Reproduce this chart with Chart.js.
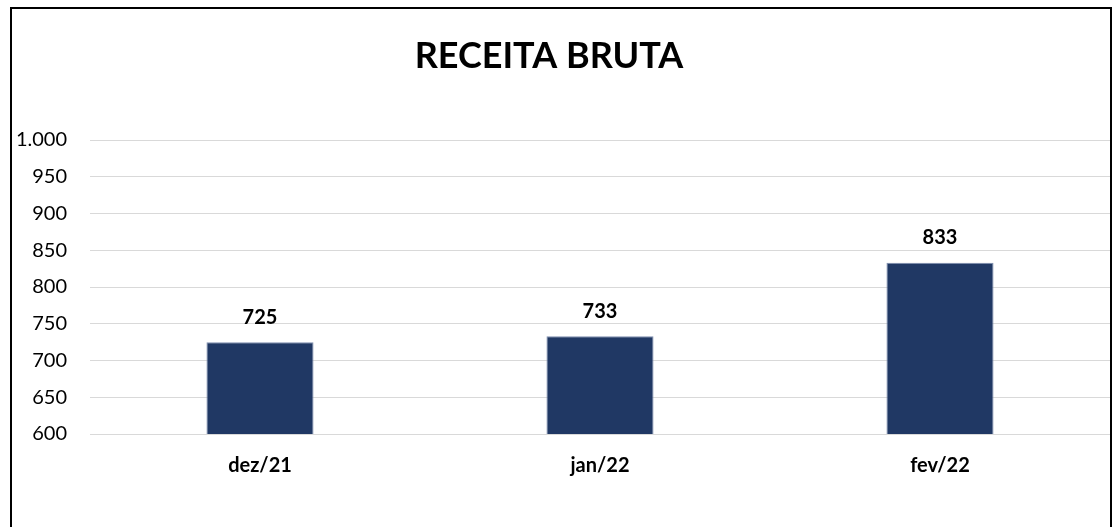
<!DOCTYPE html>
<html>
<head>
<meta charset="utf-8">
<script src="https://cdn.jsdelivr.net/npm/chart.js@4.4.0/dist/chart.umd.min.js"></script>
<style>
    body { margin: 0; background: #fff; overflow: hidden; }
    #frame {
        position: absolute; left: 10px; top: 7px; width: 1098px; height: 540px;
        border: 2px solid #000; border-bottom: none;
    }
    #chart { position: absolute; left: 0; top: 0; }
</style>
</head>
<body>
<div id="frame"></div>
<canvas id="chart" width="1112" height="527"></canvas>
<script>
// chart data
const titleText = 'RECEITA BRUTA';
const categories = ['dez/21', 'jan/22', 'fev/22'];
const receita = [725, 733, 833];
const yMin = 600;
const yMax = 1000;
const yStep = 50;

const fontFamily = 'Lato, "Open Sans", sans-serif';

// title and value labels drawn on the canvas
const labelsPlugin = {
    id: 'labelsPlugin',
    afterDatasetsDraw(chart) {
        const ctx = chart.ctx;
        ctx.save();
        ctx.fillStyle = '#000';
        ctx.textAlign = 'center';
        ctx.textBaseline = 'middle';
        ctx.font = 'bold 36px ' + fontFamily;
        ctx.fillText(titleText, 549, 56);

        ctx.font = 'bold 20px ' + fontFamily;
        const meta = chart.getDatasetMeta(0);
        meta.data.forEach((bar, i) => {
            ctx.fillText(receita[i], bar.x, bar.y - 25);
        });
        ctx.restore();
    }
};

const ctx = document.getElementById('chart');
new Chart(ctx, {
    type: 'bar',
    data: {
        labels: categories,
        datasets: [{
            label: titleText,
            data: receita,
            backgroundColor: '#203864',
            borderColor: '#7f8fb0',
            borderWidth: 1,
            barPercentage: 0.315,
            categoryPercentage: 1
        }]
    },
    options: {
        responsive: false,
        animation: false,
        layout: {
            padding: { top: 140, right: 2, bottom: 0, left: 0 }
        },
        scales: {
            y: {
                min: yMin,
                max: yMax,
                afterFit(scale) { scale.width = 90; },
                ticks: {
                    stepSize: yStep,
                    padding: 23,
                    color: '#000',
                    font: { family: fontFamily, size: 20 },
                    callback: function(value) {
                        return new Intl.NumberFormat('pt-BR').format(value);
                    }
                },
                grid: {
                    color: '#d9d9d9',
                    lineWidth: 1,
                    drawTicks: false
                },
                border: { display: false }
            },
            x: {
                afterFit(scale) { scale.height = 93; },
                ticks: {
                    padding: 20,
                    color: '#000',
                    font: { family: fontFamily, size: 20, weight: 'bold' }
                },
                grid: { display: false, drawTicks: false },
                border: { display: false }
            }
        },
        plugins: {
            legend: { display: false },
            title: { display: false },
            tooltip: { enabled: false }
        }
    },
    plugins: [labelsPlugin]
});
</script>
</body>
</html>
